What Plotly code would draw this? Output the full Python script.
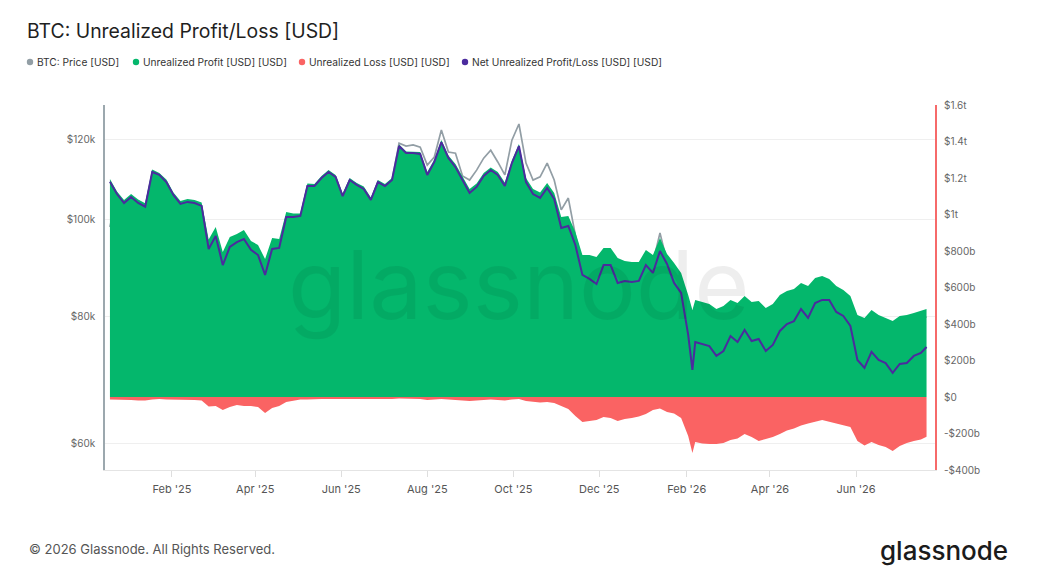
import pandas as pd
import plotly.graph_objects as go

# ---------------- data ----------------
base_dates = pd.date_range("2024-12-19", periods=116, freq="5D").strftime("%Y-%m-%d").tolist()
dates = base_dates[:83] + ["2026-02-05"] + base_dates[83:] + ["2026-07-21"]

# BTC price, thousands of USD (left, log axis)
btc_price_k = [
    98.2, 105.9, 103.7, 105.1, 103.7, 102.8, 111.3, 110.6, 108.8, 105.6,
    103.5, 104.0, 103.7, 103.0, 93.4, 96.2, 90.0, 93.8, 94.9, 95.5,
    93.2, 92.1, 88.0, 93.4, 93.6, 100.5, 100.5, 100.7, 107.8, 107.8,
    109.8, 111.3, 110.1, 105.4, 109.3, 108.1, 107.1, 104.4, 108.8, 107.8,
    109.3, 118.9, 118.1, 118.4, 117.8, 113.1, 115.2, 122.5, 116.5, 116.2,
    110.3, 109.3, 111.8, 114.9, 117.0, 113.9, 110.6, 119.7, 124.2, 113.6,
    109.3, 110.1, 113.6, 109.3, 102.1, 104.9, 96.4, 90.5, 90.5, 90.0,
    91.9, 91.9, 89.8, 89.2, 89.0, 89.0, 91.5, 90.5, 96.9, 90.7,
    88.8, 86.8, 82.6,
    79.8,
    81.6, 81.3, 80.9, 80.0, 80.5, 81.6, 81.1,
    82.4, 81.3, 81.4, 80.2, 80.9, 82.6, 83.3, 83.7, 84.9, 84.3,
    85.8, 86.2, 85.6, 84.3, 83.5, 82.4, 78.9, 78.3, 79.8, 78.9,
    78.3, 77.8, 78.7, 78.9, 79.2, 79.6,
    80.0,
]

# Unrealized profit, billions of USD (right axis)
unrealized_profit_b = [
    1194, 1126, 1080, 1112, 1082, 1062, 1247, 1228, 1192, 1121,
    1074, 1085, 1080, 1066, 863, 932, 795, 877, 893, 915,
    855, 833, 756, 871, 866, 1014, 1006, 1006, 1170, 1167,
    1211, 1244, 1217, 1115, 1200, 1173, 1154, 1093, 1189, 1167,
    1200, 1384, 1345, 1345, 1343, 1233, 1302, 1408, 1323, 1277,
    1208, 1140, 1170, 1228, 1258, 1233, 1175, 1296, 1386, 1200,
    1140, 1121, 1173, 1118, 986, 992, 904, 778, 778, 767,
    817, 817, 762, 745, 740, 740, 806, 778, 871, 784,
    734, 680, 559,
    477,
    532, 521, 510, 482, 499, 532, 515,
    553, 521, 526, 488, 510, 559, 581, 592, 625, 608,
    652, 663, 647, 608, 586, 553, 449, 433, 477, 449,
    433, 416, 444, 449, 460, 471,
    482,
]

# Unrealized loss, billions of USD (negative, right axis)
unrealized_loss_b = [
    -14, -14, -16, -16, -19, -19, -14, -11, -14, -14,
    -16, -16, -16, -19, -52, -49, -71, -55, -44, -49,
    -49, -55, -88, -60, -49, -27, -19, -14, -14, -11,
    -11, -11, -11, -14, -11, -11, -14, -14, -11, -11,
    -11, -8, -8, -8, -11, -16, -14, -11, -14, -16,
    -19, -22, -19, -16, -14, -16, -19, -14, -11, -22,
    -27, -30, -27, -33, -49, -66, -104, -137, -132, -126,
    -110, -115, -132, -121, -115, -107, -93, -71, -63, -82,
    -90, -115, -214,
    -307,
    -247, -255, -258, -258, -252, -236, -227,
    -203, -219, -241, -230, -219, -203, -184, -173, -156, -145,
    -135, -126, -135, -145, -156, -164, -241, -266, -247, -263,
    -274, -296, -269, -252, -241, -233,
    -218,
]

# Net unrealized profit/loss, billions of USD (right axis)
net_unrealized_b = [
    1180, 1112, 1063, 1096, 1063, 1043, 1233, 1217, 1178, 1107,
    1058, 1069, 1063, 1047, 811, 882, 723, 822, 849, 866,
    806, 778, 669, 811, 817, 986, 986, 992, 1156, 1156,
    1200, 1233, 1206, 1101, 1189, 1162, 1140, 1080, 1178, 1156,
    1189, 1375, 1337, 1337, 1332, 1217, 1288, 1397, 1310, 1260,
    1189, 1118, 1151, 1211, 1244, 1217, 1156, 1282, 1375, 1178,
    1112, 1091, 1145, 1085, 926, 937, 833, 669, 647, 619,
    723, 723, 625, 636, 630, 636, 723, 680, 800, 729,
    625, 570, 340,
    148,
    301, 290, 279, 225, 252, 334, 301,
    367, 307, 318, 252, 285, 362, 400, 416, 482, 433,
    515, 532, 532, 466, 444, 389, 203, 159, 247, 203,
    186, 132, 181, 186, 225, 241,
    274,
]

price_ticks = [60000, 80000, 100000, 120000]
price_tick_text = ["$60k", "$80k", "$100k", "$120k"]
pl_ticks = [-400, -200, 0, 200, 400, 600, 800, 1000, 1200, 1400, 1600]
pl_tick_text = ["-$400b", "-$200b", "$0", "$200b", "$400b", "$600b", "$800b",
                "$1t", "$1.2t", "$1.4t", "$1.6t"]

legend_items = [
    ("BTC: Price [USD]", "#929ea5"),
    ("Unrealized Profit [USD] [USD]", "#04b76c"),
    ("Unrealized Loss [USD] [USD]", "#fa6363"),
    ("Net Unrealized Profit/Loss [USD] [USD]", "#4b2b9e"),
]

# ---------------- styling / layout ----------------
W, H = 1038, 576
ML, MR, MT, MB = 105, 103, 105, 106
PW, PH = W - ML - MR, H - MT - MB
FONT = "Inter, 'Noto Sans', sans-serif"
GREY, GREEN, RED, PURPLE = [c for _, c in legend_items]


def px_x(px):
    return (px - ML) / PW


def px_y(py):
    return (H - MB - py) / PH


fig = go.Figure()
fig.add_trace(go.Scatter(
    x=dates, y=[p * 1000 for p in btc_price_k], yaxis="y", mode="lines",
    line=dict(color=GREY, width=1.7), name=legend_items[0][0], hoverinfo="skip"))
fig.add_trace(go.Scatter(
    x=dates, y=unrealized_profit_b, yaxis="y2", mode="lines", fill="tozeroy",
    fillcolor=GREEN, line=dict(color=GREEN, width=0), name=legend_items[1][0],
    hoverinfo="skip"))
fig.add_trace(go.Scatter(
    x=dates, y=unrealized_loss_b, yaxis="y2", mode="lines", fill="tozeroy",
    fillcolor=RED, line=dict(color=RED, width=0), name=legend_items[2][0],
    hoverinfo="skip"))
fig.add_trace(go.Scatter(
    x=dates, y=net_unrealized_b, yaxis="y2", mode="lines",
    line=dict(color=PURPLE, width=2), name=legend_items[3][0], hoverinfo="skip"))

annotations = []
shapes = []
legend_dot_x = [30, 136, 302, 465]
for (label, color), dx in zip(legend_items, legend_dot_x):
    shapes.append(dict(type="circle", xref="paper", yref="paper",
                       xsizemode="pixel", ysizemode="pixel",
                       xanchor=px_x(dx), yanchor=px_y(62),
                       x0=-3.2, x1=3.2, y0=-3.2, y1=3.2,
                       fillcolor=color, line=dict(width=0)))
    annotations.append(dict(text=label, xref="paper", yref="paper",
                            x=px_x(dx + 5), y=px_y(62), xanchor="left",
                            yanchor="middle", showarrow=False,
                            font=dict(family=FONT, size=10.2, color="#333333")))

# watermark
annotations.append(dict(text="glassnode", xref="paper", yref="paper",
                        x=px_x(519), y=px_y(284), xanchor="center", yanchor="middle",
                        showarrow=False,
                        font=dict(family=FONT, size=95, color="rgba(0,0,0,0.065)")))
# footer
annotations.append(dict(text="© 2026 Glassnode. All Rights Reserved.", xref="paper",
                        yref="paper", x=px_x(27), y=px_y(549), xanchor="left",
                        yanchor="middle", showarrow=False,
                        font=dict(family=FONT, size=13, color="#555555")))
annotations.append(dict(text="glassnode", xref="paper", yref="paper",
                        x=px_x(1010), y=px_y(550), xanchor="right", yanchor="middle",
                        showarrow=False,
                        font=dict(family=FONT, size=26, color="#1b1b1b", weight=500)))

fig.update_layout(
    width=W, height=H,
    margin=dict(l=ML, r=MR, t=MT, b=MB),
    paper_bgcolor="white", plot_bgcolor="white",
    showlegend=False,
    title=dict(text="BTC: Unrealized Profit/Loss [USD]", xref="container", yref="container",
               x=27 / W, xanchor="left", y=1 - 31 / H, yanchor="middle",
               font=dict(family=FONT, size=19.4, color="#1f1f1f")),
    xaxis=dict(type="date", range=["2024-12-15 12:00", "2026-07-27"],
               tickformat="%b '%y", dtick="M2", tick0="2025-02-01",
               ticks="outside", ticklen=6, tickcolor="#dedede",
               ticklabelstandoff=3,
               showgrid=False, zeroline=False,
               showline=True, linecolor="#e4e4e4", linewidth=1,
               tickfont=dict(family=FONT, size=11, color="#555555")),
    yaxis=dict(type="log", range=[4.75143, 5.11294],
               tickvals=price_ticks, ticktext=price_tick_text,
               showgrid=True, gridcolor="#efefef", gridwidth=1, zeroline=False,
               showline=True, linecolor="#9ca8ae", linewidth=1.5, ticks="",
               ticklabelstandoff=6,
               tickfont=dict(family=FONT, size=10, color="#666666")),
    yaxis2=dict(overlaying="y", side="right", range=[-400, 1600],
                tickvals=pl_ticks, ticktext=pl_tick_text,
                showgrid=False, zeroline=False,
                showline=True, linecolor="#f66a6a", linewidth=2, ticks="",
                ticklabelstandoff=5,
                tickfont=dict(family=FONT, size=10, color="#666666")),
    annotations=annotations,
    shapes=shapes,
)

fig.write_html("out.html", config={"displayModeBar": False},
               post_script="document.body.style.margin='0px';")
